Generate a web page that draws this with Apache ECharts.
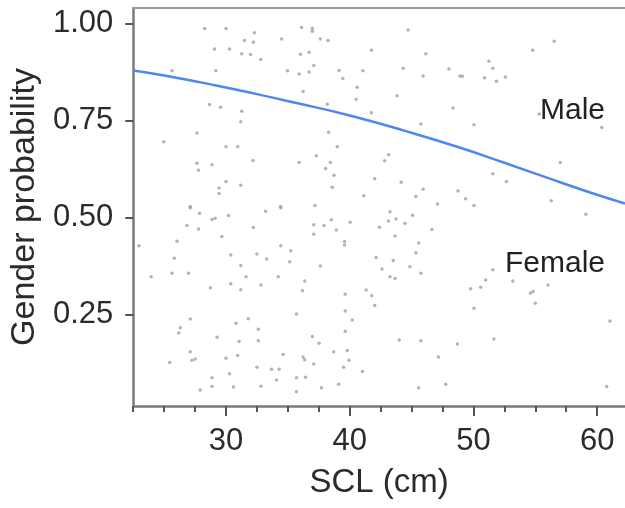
<!DOCTYPE html>
<html>
<head>
<meta charset="utf-8">
<script src="https://cdn.jsdelivr.net/npm/echarts@6.0.0/dist/echarts.min.js"></script>
<style>
	html, body { margin: 0; padding: 0; background: #fff; }
	#main { width: 625px; height: 508px; }
</style>
</head>
<body>
<div id="main"></div>
<script>
// observed turtles: straight carapace length (cm) and gender probability
var sclValues = [
	28.27, 30.00, 32.29, 31.49, 32.21, 34.49, 29.07, 30.28, 31.27, 31.99, 32.80, 25.64, 29.18, 34.97,
	28.67, 29.56, 31.27, 31.19, 27.65, 24.97, 30.00, 30.95, 27.65, 28.86, 27.78, 32.18, 30.00, 31.19,
	29.44, 29.44, 27.11, 34.41,
	36.10, 36.98, 36.98, 37.62, 38.24, 36.02, 36.72, 37.09, 35.91, 36.72, 39.13, 39.45, 41.06, 40.60,
	40.52, 41.75, 44.72, 46.15, 44.32, 45.93, 48.02, 48.91, 43.82, 48.35, 36.23, 38.19, 41.75, 45.75,
	38.29, 38.99, 35.91, 37.30, 38.43, 38.05, 38.72, 38.59, 43.14, 42.82, 42.02, 44.16, 45.93, 45.34,
	41.14, 48.75, 47.09, 37.19,
	56.53, 54.79, 51.25, 51.57, 49.10, 50.90, 51.86, 52.59, 50.04, 55.32, 60.37, 57.01, 51.57, 52.67,
	56.29, 49.37, 50.04,
	27.11, 27.86, 28.86, 29.12, 30.20, 33.20, 34.43, 26.84, 27.78, 32.21, 29.66, 26.04, 22.96, 34.43,
	35.23, 25.82, 30.38, 32.50, 33.28, 35.15, 31.19, 23.95, 25.64, 26.98, 31.62, 34.22, 28.74, 30.38,
	31.19, 32.82, 35.69, 27.11, 30.81, 31.80, 26.31, 26.18, 32.61, 29.28, 31.06, 32.61, 27.11, 27.25,
	27.51, 34.62, 25.45, 30.00, 30.94, 32.50, 33.68, 34.30, 28.86, 30.28, 34.08, 35.69, 27.91, 28.86,
	30.60, 32.82, 35.69,
	37.09, 37.92, 38.51, 38.91, 40.04, 37.09, 39.58, 39.58, 43.25, 43.12, 43.74, 44.46, 45.08, 42.40,
	43.66, 46.64, 45.57, 45.35, 42.13, 43.52, 42.61, 44.86, 43.25, 43.66, 45.75, 37.62, 36.36, 36.18,
	39.64, 41.33, 41.78, 42.02, 39.64, 40.20, 39.64, 36.98, 37.52, 44.00, 45.75, 48.70, 36.23, 36.36,
	37.09, 38.70, 39.80, 39.93, 39.50, 41.03, 47.17, 36.42, 37.71, 39.10, 45.57, 47.76,
	59.08, 51.57, 50.98, 50.58, 49.77, 53.18, 56.02, 54.60, 54.82, 55.00, 50.04, 51.65, 61.03, 60.77
];
var probValues = [
	0.987, 0.987, 0.976, 0.956, 0.952, 0.960, 0.934, 0.934, 0.922, 0.920, 0.907, 0.878, 0.878, 0.878,
	0.791, 0.784, 0.774, 0.747, 0.718, 0.695, 0.682, 0.682, 0.640, 0.636, 0.622, 0.647, 0.593, 0.583,
	0.576, 0.562, 0.528, 0.528,
	0.990, 0.988, 0.980, 0.960, 0.956, 0.921, 0.926, 0.892, 0.870, 0.875, 0.879, 0.858, 0.878, 0.836,
	0.805, 0.931, 0.983, 0.922, 0.885, 0.865, 0.883, 0.865, 0.814, 0.782, 0.825, 0.792, 0.770, 0.741,
	0.720, 0.682, 0.642, 0.659, 0.642, 0.626, 0.609, 0.578, 0.662, 0.646, 0.600, 0.591, 0.573, 0.554,
	0.556, 0.568, 0.535, 0.531,
	0.954, 0.931, 0.903, 0.885, 0.864, 0.860, 0.851, 0.862, 0.739, 0.767, 0.732, 0.642, 0.613, 0.593,
	0.543, 0.548, 0.531,
	0.525, 0.511, 0.495, 0.498, 0.505, 0.516, 0.525, 0.479, 0.470, 0.474, 0.451, 0.439, 0.427, 0.427,
	0.414, 0.395, 0.403, 0.406, 0.393, 0.386, 0.376, 0.347, 0.356, 0.356, 0.347, 0.347, 0.319, 0.329,
	0.314, 0.326, 0.251, 0.238, 0.227, 0.239, 0.216, 0.202, 0.212, 0.191, 0.180, 0.182, 0.154, 0.132,
	0.135, 0.147, 0.126, 0.137, 0.144, 0.114, 0.109, 0.109, 0.087, 0.097, 0.081, 0.087, 0.055, 0.064,
	0.063, 0.065, 0.051,
	0.481, 0.479, 0.494, 0.468, 0.488, 0.457, 0.438, 0.429, 0.515, 0.491, 0.496, 0.485, 0.506, 0.475,
	0.452, 0.469, 0.434, 0.409, 0.397, 0.389, 0.367, 0.373, 0.347, 0.343, 0.356, 0.375, 0.336, 0.311,
	0.302, 0.313, 0.298, 0.273, 0.259, 0.236, 0.207, 0.193, 0.176, 0.184, 0.182, 0.174, 0.140, 0.133,
	0.122, 0.154, 0.157, 0.132, 0.114, 0.103, 0.140, 0.088, 0.061, 0.070, 0.061, 0.070,
	0.508, 0.365, 0.339, 0.320, 0.316, 0.336, 0.326, 0.305, 0.309, 0.279, 0.266, 0.187, 0.233, 0.064
];

// fitted curve
var curveScl = [22.5, 25, 29.1, 32.5, 35.7, 40, 44.6, 49, 52.5, 56, 59, 62.25];
var curveProb = [0.879, 0.866, 0.841, 0.818, 0.795, 0.763, 0.722, 0.679, 0.641, 0.602, 0.569, 0.536];

var xTicks = [30, 40, 50, 60];
var xMinorTicks = [22.5, 25, 27.5, 32.5, 35, 37.5, 42.5, 45, 47.5, 52.5, 55, 57.5];
var yTicks = [0.25, 0.5, 0.75, 1.0];

var font = 'Liberation Sans, Arial, Helvetica, sans-serif';

var points = [];
for (var i = 0; i < sclValues.length; i++) {
	points.push([sclValues[i], probValues[i]]);
}
var curve = [];
for (var j = 0; j < curveScl.length; j++) {
	curve.push([curveScl[j], curveProb[j]]);
}

var myChart = echarts.init(document.getElementById('main'));

option = {
	animation: false,
	backgroundColor: '#fff',
	grid: { left: 131, right: 0, top: 8, bottom: 102 },
	xAxis: [{
		type: 'value',
		min: 22.5,
		max: 62.25,
		position: 'bottom',
		splitLine: { show: false },
		axisLine: { onZero: false, lineStyle: { color: '#7a7a7a', width: 2.5 } },
		axisTick: { customValues: xTicks, length: 10, lineStyle: { color: '#555', width: 2 } },
		axisLabel: { customValues: xTicks, fontSize: 31, color: '#2b2b2b', margin: 20, fontFamily: font },
		name: 'SCL (cm)',
		nameLocation: 'middle',
		nameGap: 60,
		nameTextStyle: { fontSize: 33, color: '#2b2b2b', fontFamily: font }
	}, {
		type: 'value',
		min: 22.5,
		max: 62.25,
		position: 'bottom',
		splitLine: { show: false },
		axisLine: { show: false, onZero: false },
		axisTick: { customValues: xMinorTicks, length: 6, lineStyle: { color: '#555', width: 2 } },
		axisLabel: { show: false }
	}, {
		type: 'value',
		min: 22.5,
		max: 62.25,
		position: 'top',
		splitLine: { show: false },
		axisLine: { onZero: false, lineStyle: { color: '#9a9a9a', width: 2 } },
		axisTick: { show: false },
		axisLabel: { show: false }
	}],
	yAxis: {
		type: 'value',
		min: 0.014,
		max: 1.04,
		splitLine: { show: false },
		axisLine: { onZero: false, lineStyle: { color: '#7a7a7a', width: 2.5 } },
		axisTick: { customValues: yTicks, length: 8, lineStyle: { color: '#555', width: 2 } },
		axisLabel: {
			customValues: yTicks,
			fontSize: 31,
			color: '#2b2b2b',
			margin: 20,
			fontFamily: font,
			formatter: function(v) { return v.toFixed(2); }
		},
		name: 'Gender probability',
		nameLocation: 'middle',
		nameGap: 87,
		nameTextStyle: { fontSize: 34, color: '#2b2b2b', fontFamily: font }
	},
	series: [{
		type: 'scatter',
		data: points,
		symbol: 'circle',
		symbolSize: 3.5,
		itemStyle: { color: '#a0a0a0' }
	}, {
		type: 'line',
		data: curve,
		smooth: true,
		symbol: 'none',
		lineStyle: { color: '#4f86f2', width: 2.5 }
	}],
	graphic: [{
		type: 'text',
		left: 540,
		top: 96,
		style: { text: 'Male', fontSize: 30, fill: '#222', fontFamily: font }
	}, {
		type: 'text',
		left: 505,
		top: 249,
		style: { text: 'Female', fontSize: 30, fill: '#222', fontFamily: font }
	}]
};

myChart.setOption(option);
</script>
</body>
</html>
